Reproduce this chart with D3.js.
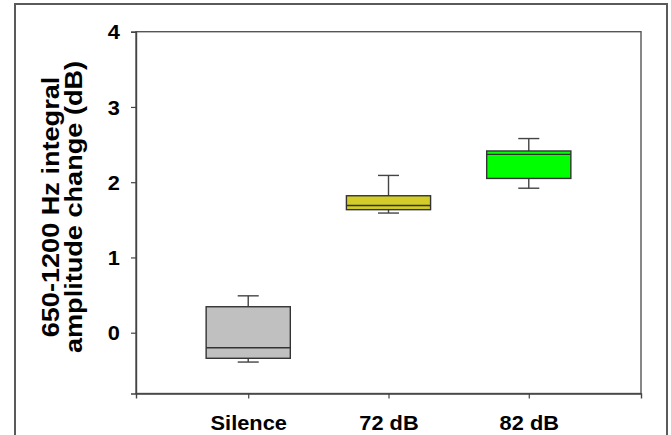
<!DOCTYPE html>
<html>
<head>
<meta charset="utf-8">
<script src="https://cdn.jsdelivr.net/npm/d3@7"></script>
<style>
  html, body { margin: 0; padding: 0; background: #fff; }
  svg { display: block; }
  text { font-family: "Liberation Sans", Arial, sans-serif; font-weight: bold; fill: #000; }
</style>
</head>
<body>
<svg id="chart" width="671" height="435"></svg>
<script>
// ---- data ----
const categories = ["Silence", "72 dB", "82 dB"];
const whiskerLow  = [-0.39, 1.59, 1.92];
const q1          = [-0.34, 1.635, 2.05];
const medians     = [-0.20, 1.69, 2.37];
const q3          = [0.345, 1.82, 2.415];
const whiskerHigh = [0.49, 2.09, 2.58];
const colors      = ["#c0c0c0", "#d4cd29", "#00ff00"];
const yTicks      = [0, 1, 2, 3, 4];
const yLabelLines = ["650-1200 Hz integral", "amplitude change (dB)"];

// ---- layout ----
const svg = d3.select("#chart");
const plot = { left: 136, right: 641, top: 31.7, bottom: 393.5 };
const tickStretch = 1.09;
const labelStretch = 1.13;

const x = d3.scaleLinear().domain([0.2, 3.8]).range([plot.left, plot.right]);
const y = d3.scaleLinear().domain([-0.808, 4]).range([plot.bottom, plot.top]);

// outer frame
svg.append("rect")
  .attr("x", 15).attr("y", 4).attr("width", 652).attr("height", 460)
  .attr("fill", "none").attr("stroke", "#5a5a5a").attr("stroke-width", 2);

// plot frame
svg.append("rect")
  .attr("x", plot.left).attr("y", plot.top)
  .attr("width", plot.right - plot.left).attr("height", plot.bottom - plot.top)
  .attr("fill", "none").attr("stroke", "#555").attr("stroke-width", 1.4);

// boxes
const data = categories.map((c, i) => ({
  c, i, pos: i + 1,
  lo: whiskerLow[i], q1: q1[i], med: medians[i], q3: q3[i], hi: whiskerHigh[i],
  color: colors[i]
}));
const boxW = 0.6, capW = 0.15;
const g = svg.append("g");
data.forEach(d => {
  const cx = x(d.pos);
  g.append("line").attr("x1", cx).attr("x2", cx).attr("y1", y(d.q3)).attr("y2", y(d.hi))
    .attr("stroke", "#444").attr("stroke-width", 1.4);
  g.append("line").attr("x1", cx).attr("x2", cx).attr("y1", y(d.q1)).attr("y2", y(d.lo))
    .attr("stroke", "#444").attr("stroke-width", 1.4);
  g.append("line").attr("x1", x(d.pos - capW / 2)).attr("x2", x(d.pos + capW / 2))
    .attr("y1", y(d.hi)).attr("y2", y(d.hi)).attr("stroke", "#444").attr("stroke-width", 1.4);
  g.append("line").attr("x1", x(d.pos - capW / 2)).attr("x2", x(d.pos + capW / 2))
    .attr("y1", y(d.lo)).attr("y2", y(d.lo)).attr("stroke", "#444").attr("stroke-width", 1.4);
  g.append("rect")
    .attr("x", x(d.pos - boxW / 2)).attr("width", x(d.pos + boxW / 2) - x(d.pos - boxW / 2))
    .attr("y", y(d.q3)).attr("height", y(d.q1) - y(d.q3))
    .attr("fill", d.color).attr("stroke", "#333").attr("stroke-width", 1.4);
  g.append("line").attr("x1", x(d.pos - boxW / 2)).attr("x2", x(d.pos + boxW / 2))
    .attr("y1", y(d.med)).attr("y2", y(d.med)).attr("stroke", "#333").attr("stroke-width", 1.4);
});

// y axis
const yAxis = svg.append("g").attr("transform", `translate(${plot.left},0)`)
  .call(d3.axisLeft(y).tickValues(yTicks).tickSize(5).tickFormat(d3.format("d")));
yAxis.attr("font-size", null).attr("font-family", null);
yAxis.select(".domain").attr("stroke", "#444").attr("stroke-width", 1.4);
yAxis.selectAll(".tick line").attr("stroke", "#444").attr("stroke-width", 1.2);
yAxis.selectAll(".tick text")
  .attr("x", 0).attr("dy", "0.36em")
  .attr("text-anchor", "end")
  .attr("transform", `translate(-16,0) scale(${tickStretch},1)`)
  .style("font-size", "20px")
  .style("font-family", '"Liberation Sans", Arial, sans-serif').style("font-weight", "bold")
  .attr("fill", "#000");

// x axis
const xAxis = svg.append("g").attr("transform", `translate(0,${plot.bottom})`)
  .call(d3.axisBottom(x).tickValues(data.map(d => d.pos)).tickSize(5)
    .tickFormat((d, i) => categories[i]));
xAxis.attr("font-size", null).attr("font-family", null);
xAxis.select(".domain").attr("stroke", "#444").attr("stroke-width", 1.4);
xAxis.selectAll(".tick line").attr("stroke", "#444").attr("stroke-width", 1.2);
xAxis.selectAll(".tick text")
  .attr("y", 0).attr("dy", 0)
  .attr("transform", `translate(0,36.5) scale(${tickStretch},1)`)
  .style("font-size", "20px")
  .style("font-family", '"Liberation Sans", Arial, sans-serif').style("font-weight", "bold")
  .attr("fill", "#000");

// y label
const cy = 207;
const lineX = [59, 82];
yLabelLines.forEach((t, i) => {
  svg.append("text")
    .attr("transform", `translate(${lineX[i]},${cy}) rotate(-90) scale(${labelStretch},1)`)
    .attr("text-anchor", "middle")
    .style("font-size", "24px")
    .text(t);
});
</script>
</body>
</html>
